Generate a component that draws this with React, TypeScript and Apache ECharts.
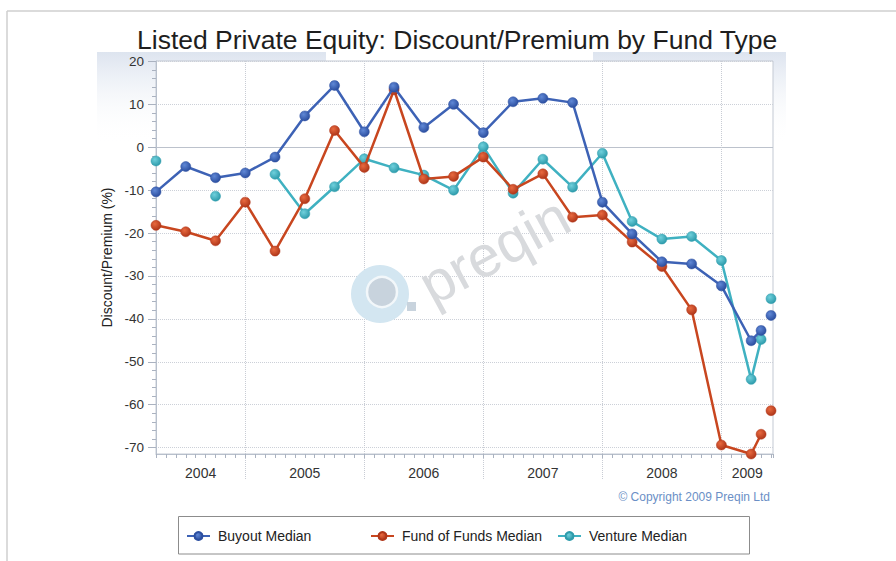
import React, { useEffect, useRef } from "react";
import * as echarts from "echarts";

const dates = [
  "2004-03", "2004-06", "2004-09", "2004-12",
  "2005-03", "2005-06", "2005-09", "2005-12",
  "2006-03", "2006-06", "2006-09", "2006-12",
  "2007-03", "2007-06", "2007-09", "2007-12",
  "2008-03", "2008-06", "2008-09", "2008-12",
  "2009-03", "2009-04", "2009-05",
];
const buyout = [-10.4, -4.5, -7.1, -6.0, -2.3, 7.3, 14.4, 3.6, 14.0, 4.6, 10.0, 3.4, 10.6, 11.4, 10.4, -12.8, -20.2, -26.7, -27.2, -32.3, -45.1, -42.7, -39.2];
const fundOfFunds = [-18.2, -19.7, -21.8, -12.8, -24.2, -12.0, 3.9, -4.7, 13.4, -7.4, -6.8, -2.3, -9.8, -6.2, -16.3, -15.8, -22.1, -27.8, -37.9, -69.4, -71.5, -66.9, -61.4];
const venture = [-3.2, null, -11.4, null, -6.3, -15.5, -9.2, -2.7, -4.8, -6.5, -10.0, 0.1, -10.7, -2.8, -9.3, -1.4, -17.3, -21.4, -20.8, -26.4, -54.1, -44.8, -35.3];
const breakBefore = "2009-05";

const years = [2004, 2005, 2006, 2007, 2008, 2009];
const yTicks = [-70, -60, -50, -40, -30, -20, -10, 0, 10, 20];

const seriesNames = ["Buyout Median", "Fund of Funds Median", "Venture Median"];

const FONT = "'Liberation Sans', Arial, Helvetica, sans-serif";
const X_MIN = 3;
const X_MAX = 65.2;
const Y_MIN = -71.5;
const Y_MAX = 20.1;

const toX = (d: string) => (Number(d.slice(0, 4)) - years[0]) * 12 + Number(d.slice(5, 7));

const build = (vals: (number | null)[]) => {
  const out: any[] = [];
  dates.forEach((d, i) => {
    if (d === breakBefore) out.push([toX(d) - 0.5, "-"]);
    out.push([toX(d), vals[i] == null ? "-" : vals[i]]);
  });
  return out;
};

const yearBounds = years.slice(1).map((y) => (y - years[0]) * 12);
const labelPos = years.map((y) => {
  const a = Math.max(X_MIN, (y - years[0]) * 12);
  const b = Math.min(X_MAX, (y - years[0] + 1) * 12);
  return (a + b) / 2;
});
const yMinor: number[] = [];
for (let v = -70; v <= 20; v += 2) yMinor.push(v);

const grad = (light: string, dark: string) =>
  new echarts.graphic.RadialGradient(0.38, 0.35, 0.65, [
    { offset: 0, color: light },
    { offset: 1, color: dark },
  ]);

export default function App() {
  const ref = useRef<HTMLDivElement>(null);
  useEffect(() => {
    if (!ref.current) return;
    const chart = echarts.init(ref.current, null, { renderer: "svg" });
    const lineSeries = (name: string, vals: (number | null)[], line: string, light: string, dark: string, z: number) => ({
      name,
      type: "line",
      data: build(vals),
      xAxisIndex: 0,
      yAxisIndex: 0,
      symbol: "circle",
      symbolSize: 10,
      showSymbol: true,
      connectNulls: false,
      clip: false,
      z,
      lineStyle: { color: line, width: 2.5 },
      itemStyle: { color: grad(light, dark), borderColor: dark, borderWidth: 0.5 },
    });
    const legendBase = {
      top: 529,
      padding: 0,
      itemWidth: 23,
      itemHeight: 10,
      selectedMode: false,
      textStyle: { fontSize: 14, color: "#222", fontFamily: FONT, padding: [0, 0, 0, 3] },
    };
    chart.setOption({
      animation: false,
      backgroundColor: "#ffffff",
      title: {
        text: "Listed Private Equity: Discount/Premium by Fund Type",
        left: 137,
        top: 26,
        padding: 0,
        textStyle: { fontSize: 26.5, fontWeight: "normal", color: "#1e1e1e", fontFamily: FONT },
      },
      legend: [
        { ...legendBase, left: 186, data: [seriesNames[0]] },
        { ...legendBase, left: 370, data: [seriesNames[1]] },
        { ...legendBase, left: 557, data: [seriesNames[2]] },
      ],
      grid: {
        left: 156,
        top: 61,
        width: 617,
        height: 393,
        show: true,
        backgroundColor: "#ffffff",
        borderColor: "#c3c9d3",
        borderWidth: 1,
      },
      xAxis: [
        {
          type: "value",
          min: X_MIN,
          max: X_MAX,
          position: "bottom",
          axisLine: { show: true, onZero: false, lineStyle: { color: "#b8c0cc", width: 1 } },
          axisTick: { show: true, customValues: yearBounds, length: 26, lineStyle: { color: "#c8ccd4", type: "dotted" } },
          axisLabel: {
            customValues: labelPos,
            formatter: (v: number) => String(years[0] + Math.floor(v / 12)),
            margin: 12,
            fontSize: 14,
            color: "#333",
            fontFamily: FONT,
          },
          splitLine: { show: true, lineStyle: { color: "#c8ccd4", type: "dotted" } },
        },
        {
          type: "value",
          min: X_MIN,
          max: X_MAX,
          interval: 1,
          position: "bottom",
          axisLine: { show: false, onZero: false },
          axisTick: { show: true, length: 4, lineStyle: { color: "#aab2c0" } },
          axisLabel: { show: false },
          splitLine: { show: false },
        },
      ],
      yAxis: [
        {
          type: "value",
          min: Y_MIN,
          max: Y_MAX,
          position: "left",
          name: "Discount/Premium (%)",
          nameLocation: "middle",
          nameGap: 40,
          nameTextStyle: { fontSize: 14, color: "#222", fontFamily: FONT },
          axisLine: { show: true, onZero: false, lineStyle: { color: "#b8c0cc", width: 1 } },
          axisTick: { show: true, customValues: yTicks, length: 8, lineStyle: { color: "#aab2c0" } },
          axisLabel: { customValues: yTicks, fontSize: 13.5, color: "#333", margin: 12, fontFamily: FONT },
          splitLine: { show: true, lineStyle: { color: "#ccd0d8", type: "dotted" } },
        },
        {
          type: "value",
          min: Y_MIN,
          max: Y_MAX,
          position: "left",
          axisLine: { show: false, onZero: false },
          axisTick: { show: true, customValues: yMinor, length: 4, lineStyle: { color: "#aab2c0" } },
          axisLabel: { show: false },
          splitLine: { show: false },
        },
        {
          type: "value",
          min: Y_MIN,
          max: Y_MAX,
          position: "left",
          axisLine: { show: false, onZero: false },
          axisTick: { show: false, customValues: [0] },
          axisLabel: { show: false, customValues: [0] },
          splitLine: { show: true, lineStyle: { color: "#bcc2cc", type: "solid", width: 1 } },
        },
      ],
      graphic: [
        { type: "line", shape: { x1: 7, y1: 11, x2: 896, y2: 11 }, style: { stroke: "#cfcfcf", lineWidth: 1.5 }, z: -20 },
        { type: "line", shape: { x1: 7, y1: 11, x2: 7, y2: 561 }, style: { stroke: "#cfcfcf", lineWidth: 1.5 }, z: -20 },
        {
          type: "rect",
          shape: { x: 97, y: 52, width: 229, height: 92 },
          style: { fill: new echarts.graphic.LinearGradient(0, 0, 0, 1, [{ offset: 0, color: "#dde4ef" }, { offset: 1, color: "rgba(255,255,255,0)" }]) },
          z: -20,
        },
        {
          type: "rect",
          shape: { x: 593, y: 52, width: 193, height: 92 },
          style: { fill: new echarts.graphic.LinearGradient(0, 0, 0, 1, [{ offset: 0, color: "#dde4ef" }, { offset: 1, color: "rgba(255,255,255,0)" }]) },
          z: -20,
        },
        { type: "circle", shape: { cx: 380, cy: 294, r: 29 }, style: { fill: "#d3e6f1" }, z: 1 },
        { type: "circle", shape: { cx: 382, cy: 292, r: 15 }, style: { fill: "#c8d3dd", stroke: "#f2f7fa", lineWidth: 2.5 }, z: 1 },
        { type: "rect", shape: { x: 407, y: 302, width: 9, height: 9 }, style: { fill: "#c8d3dd" }, z: 1 },
        {
          type: "text",
          x: 494,
          y: 250,
          rotation: 0.5,
          z: 1,
          style: { text: "preqin", fontSize: 58, fontFamily: FONT, fill: "#d8dadd", align: "center", verticalAlign: "middle" },
        },
        {
          type: "text",
          x: 770,
          y: 497,
          style: { text: "© Copyright 2009 Preqin Ltd", fontSize: 12, fontFamily: FONT, fill: "#6b8fc6", align: "right", verticalAlign: "middle" },
        },
        {
          type: "rect",
          shape: { x: 178.5, y: 516.5, width: 571, height: 37.5 },
          style: { fill: "#ffffff", stroke: "#8c8c8c", lineWidth: 1 },
          z: 0,
        },
      ],
      series: [
        lineSeries(seriesNames[2], venture, "#3fb1c1", "#6fd0dc", "#2f9cac", 2),
        lineSeries(seriesNames[1], fundOfFunds, "#c8461f", "#e8693f", "#b0371a", 3),
        lineSeries(seriesNames[0], buyout, "#3d62b5", "#6088d6", "#2c4fa0", 4),
      ],
    });
    return () => chart.dispose();
  }, []);
  return <div ref={ref} style={{ position: "absolute", left: 0, top: 0, width: 896, height: 561 }} />;
}
